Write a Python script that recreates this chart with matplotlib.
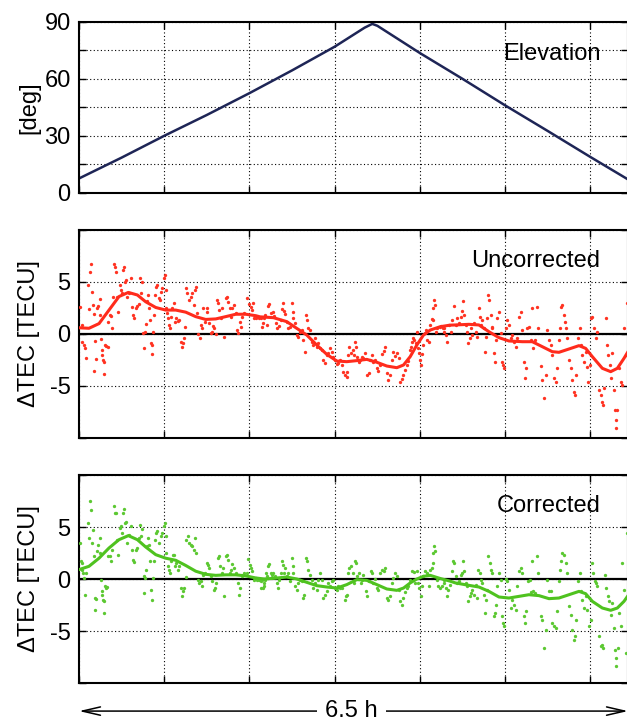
import matplotlib.pyplot as plt
import matplotlib.ticker as mticker
import numpy as np

plt.rcParams['font.family'] = ['Liberation Sans', 'DejaVu Sans']

# satellite elevation over the pass (hours, degrees)
elev_h = [0.0, 0.5, 1.0, 1.5, 2.0, 2.5, 3.0, 3.35, 3.44, 3.5, 4.0, 4.5, 5.0, 5.5, 6.0, 6.44]
elev_deg = [7.5, 18.5, 30.0, 41.0, 52.5, 64.5, 77.0, 87.0, 89.0, 88.0, 73.6, 60.0, 46.0, 32.5, 18.8, 7.0]

# smoothed uncorrected dTEC
unc_fit_h = [0.0, 0.117, 0.235, 0.352, 0.469, 0.579, 0.685, 0.782, 0.9, 1.017, 1.135, 1.252,
             1.369, 1.486, 1.604, 1.721, 1.839, 1.956, 2.074, 2.124, 2.281, 2.437, 2.555,
             2.672, 2.789, 2.907, 3.024, 3.141, 3.259, 3.376, 3.494, 3.611, 3.728, 3.807,
             3.885, 3.963, 4.041, 4.12, 4.237, 4.35, 4.417, 4.574, 4.691, 4.809, 4.926,
             5.043, 5.2, 5.317, 5.435, 5.552, 5.63, 5.748, 5.865, 5.943, 6.022, 6.139,
             6.237, 6.315, 6.393, 6.44]
unc_fit_v = [0.6, 0.55, 1.0, 2.3, 3.6, 4.0, 3.75, 3.1, 2.55, 2.3, 2.3, 2.1,
             1.67, 1.4, 1.45, 1.67, 1.9, 1.9, 1.76, 1.65, 1.57, 1.19, 0.54,
             -0.1, -1.06, -1.96, -2.6, -2.66, -2.56, -2.44, -2.72, -3.08, -3.24, -2.98,
             -2.18, -1.06, -0.1, 0.38, 0.7, 0.85, 0.87, 0.93, 0.87, 0.22, -0.35,
             -0.67, -0.74, -0.74, -1.22, -1.7, -1.76, -1.44, -1.12, -1.38, -2.18, -3.3,
             -3.62, -3.3, -2.34, -1.7]

# uncorrected dTEC samples
unc_h = [0.012, 0.031, 0.039, 0.059, 0.070, 0.078, 0.110, 0.117, 0.129, 0.137, 0.149, 0.164,
         0.176, 0.188, 0.196, 0.180, 0.215, 0.227, 0.243, 0.250, 0.258, 0.266, 0.274, 0.282,
         0.290, 0.297, 0.305, 0.321, 0.336, 0.344, 0.360, 0.372, 0.383, 0.399, 0.411, 0.423,
         0.438, 0.450, 0.462, 0.477, 0.489, 0.501, 0.516, 0.532, 0.540, 0.556, 0.567, 0.587,
         0.606, 0.618, 0.634, 0.646, 0.665, 0.685, 0.704, 0.720, 0.724, 0.736, 0.751, 0.763,
         0.775, 0.782, 0.798, 0.806, 0.822, 0.829, 0.845, 0.853, 0.861, 0.869, 0.880, 0.892,
         0.908, 0.919, 0.939, 0.951, 0.962, 0.978, 0.998, 1.009, 1.025, 1.025, 1.037, 1.049,
         1.056, 1.064, 1.076, 1.095, 1.115, 1.127, 1.142, 1.158, 1.174, 1.193, 1.205, 1.221,
         1.236, 1.244, 1.260, 1.272, 1.291, 1.311, 1.330, 1.350, 1.362, 1.369, 1.389, 1.401,
         1.416, 1.428, 1.448, 1.455, 1.479, 1.498, 1.506, 1.526, 1.545, 1.565, 1.573, 1.588,
         1.604, 1.620, 1.635, 1.643, 1.663, 1.682, 1.702, 1.721, 1.741, 1.753, 1.768, 1.784,
         1.800, 1.819, 1.839, 1.858, 1.870, 1.886, 1.901, 1.917, 1.937, 1.976, 1.995, 2.015,
         2.027, 2.042, 2.054, 2.074, 2.093, 2.113, 2.132, 2.152, 2.171,
         2.155, 2.183, 2.202, 2.222, 2.234, 2.249, 2.273, 2.288, 2.312, 2.327, 2.343, 2.367,
         2.382, 2.390, 2.406, 2.417, 2.437, 2.457, 2.476, 2.496, 2.507, 2.515, 2.535, 2.554,
         2.574, 2.593, 2.613, 2.633, 2.652, 2.664, 2.672, 2.691, 2.711, 2.730, 2.750, 2.770,
         2.789, 2.809, 2.828, 2.848, 2.867, 2.887, 2.907, 2.926, 2.946, 2.965, 2.985, 3.004,
         3.024, 3.043, 3.063, 3.083, 3.102, 3.122, 3.141, 3.149, 3.161, 3.173, 3.188, 3.212,
         3.227, 3.243, 3.251, 3.266, 3.282, 3.298, 3.317, 3.337, 3.356, 3.376, 3.396, 3.415,
         3.435, 3.454, 3.474, 3.493, 3.513, 3.532, 3.552, 3.572, 3.591, 3.611, 3.630, 3.650,
         3.669, 3.689, 3.709, 3.728, 3.748, 3.767, 3.787, 3.806, 3.826, 3.845, 3.865, 3.877,
         3.892, 3.904, 3.916, 3.932, 3.955, 3.963, 3.982, 3.994, 4.002, 4.010, 4.025, 4.041,
         4.061, 4.072, 4.088, 4.100, 4.119, 4.139, 4.151, 4.158, 4.166, 4.178, 4.190, 4.205,
         4.229, 4.245, 4.268, 4.284,
         4.281, 4.300, 4.320, 4.339, 4.359, 4.378, 4.398, 4.417, 4.437, 4.457, 4.476, 4.496,
         4.504, 4.515, 4.535, 4.554, 4.566, 4.582, 4.597, 4.613, 4.633, 4.652, 4.672, 4.691,
         4.699, 4.711, 4.730, 4.750, 4.762, 4.777, 4.789, 4.801, 4.809, 4.828, 4.840, 4.848,
         4.867, 4.879, 4.887, 4.907, 4.926, 4.946, 4.957, 4.973, 4.989, 5.004, 5.024, 5.043,
         5.063, 5.083, 5.102, 5.122, 5.141, 5.161, 5.180, 5.200, 5.220, 5.231, 5.247, 5.259,
         5.278, 5.298, 5.310, 5.325, 5.349, 5.376, 5.388, 5.415, 5.435, 5.454, 5.474, 5.493,
         5.513, 5.533, 5.552, 5.572, 5.591, 5.611, 5.630, 5.638, 5.650, 5.669, 5.689, 5.701,
         5.716, 5.728, 5.748, 5.767, 5.787, 5.806, 5.818, 5.834, 5.857, 5.873, 5.885, 5.904,
         5.924, 5.943, 5.963, 5.975, 5.990, 6.006, 6.022, 6.041, 6.061, 6.080, 6.100, 6.119,
         6.131, 6.147, 6.159, 6.178, 6.194, 6.209, 6.225, 6.241, 6.256, 6.276, 6.288, 6.295,
         6.303, 6.315, 6.335, 6.354, 6.374, 6.393, 6.413, 6.425]
unc_v = [2.56, 0.87, -0.74, -1.06, -1.31, -2.28, 4.71, 2.37, 5.99, 6.70, 4.07, 2.79,
         1.89, -0.67, -2.44, -3.53, 2.47, 2.72, 3.37, 1.83, -0.48, -1.54, -2.02, -2.50,
         -3.81, -2.66, -1.06, -1.12, -1.22, 1.19, 1.83, 1.76, 0.61, 3.59, 6.70, 6.47,
         5.99, 3.59, 2.08, 4.71, 4.23, 3.91, 6.15, 6.47, 5.03, 5.19, 3.53, 3.91,
         5.35, 2.63, 1.83, 1.57, 2.47, 2.72, 2.85, 5.35, 3.91, 5.03, 0.06, -1.31,
         0.16, 0.93, 3.17, 3.75, 2.47, 1.35, -0.90, -1.96, -1.06, 0.16, 1.83, 3.75,
         4.55, 4.71, 3.43, 3.27, 4.07, 4.46, 5.35, 5.67, 4.23, 2.47, 1.99, 1.51,
         0.87, 0.54, 1.67, 2.47, 2.95, 1.19, 1.57, 1.25, 1.35, -0.74, -1.22, -0.90,
         -0.42, 0.71, 4.39, 3.91, 3.27, 3.59, 3.91, 2.79, 4.23, 4.55, 1.99, -0.03,
         -0.35, 0.87, 0.54, 2.47, 1.12, 2.15, 2.53, 1.03, 0.06, 0.22, 0.80, 0.54,
         -0.03, 3.27, 2.95, 2.31, 1.51, 2.47, -0.26, 3.43, 3.59, 3.04, 2.47, 1.67,
         2.47, 2.79, 1.99, 0.38, 0.06, 1.19, 0.71, 1.67, 1.99, 3.43, 2.85, 2.63,
         2.31, 2.95, 1.51, 1.57, 1.67, 1.57, 1.51, 0.71, 1.57,
         1.03, 1.83, 0.87, 2.72, 2.85, 1.99, 2.15, 1.76, 1.03, 0.54, 0.80, 1.35,
         2.40, 2.95, 2.21, 1.89, 1.19, 0.54, 0.71, 2.95, 2.15, 1.51, 1.03, -0.10,
         -0.26, 0.22, 0.38, -0.58, -1.70, 1.83, 1.35, 0.54, 0.38, -0.74, -1.06, -0.42,
         -1.22, -0.90, -1.38, -1.54, -2.50, -2.82, -2.02, -1.86, -1.31, -1.70, -2.18, -2.50,
         -2.92, -2.82, -2.50, -2.98, -3.62, -3.94, -4.10, -3.69, -2.02, -1.22, -1.86, -1.54,
         -2.02, -0.74, -1.22, -2.18, -2.66, -2.50, -2.18, -2.34, -1.86, -3.94, -3.78, -2.50,
         -2.02, -2.66, -2.50, -3.30, -3.56, -2.98, -1.96, -1.63, -1.22, -3.78, -4.42, -3.94,
         -2.50, -1.70, -2.08, -1.86, -2.34, -4.58, -4.33, -3.94, -3.46, -2.98, -2.60, -1.54,
         -1.22, -0.74, -0.42, -0.58, -0.90, 0.22, -1.38, -1.86, -2.50, -2.98, -1.96, -1.06,
         0.06, 0.38, -0.58, -0.74, 0.87, 1.44, 1.35, 2.47, 3.27, 2.79, 0.22, 0.54,
         0.71, 0.80, 0.54, 0.22,
         0.54, -0.10, -0.74, 0.87, 0.22, 1.35, 2.72, 0.87, 1.51, 1.03, 1.67, 2.21,
         3.17, 1.83, 0.87, 0.22, -0.90, -0.42, 0.54, -0.10, 1.03, 0.22, -0.26, 2.47,
         1.67, 0.87, 1.35, 0.54, -1.70, -0.26, 1.51, 3.75, 3.27, 1.83, 0.54, 0.71,
         -1.86, -2.66, -0.58, 1.51, 2.15, 0.06, -2.66, -2.98, -3.24, 0.54, 1.35, 0.87,
         -0.42, -0.10, -0.74, -1.22, -0.42, 1.67, 2.15, 0.38, -2.66, -4.26, -3.30, 0.54,
         0.71, -0.58, 2.47, -1.38, -0.58, 2.63, 0.54, -3.04, -4.42, -6.19, -3.94, 0.38,
         -0.58, -1.06, -2.02, -4.26, -4.58, -3.30, -0.58, 0.54, 2.63, 2.79, 1.83, 1.19,
         0.54, -0.42, -2.50, -3.30, -4.42, -5.54, -5.87, -3.94, -0.42, 0.54, -1.06, -2.02,
         -2.66, -1.70, -3.14, -4.58, -2.98, 1.51, 1.67, 0.54, -0.42, 0.22, -5.38, -5.87,
         -6.51, -6.83, -5.22, 1.51, -1.06, -2.02, -2.98, -4.26, -1.86, -5.38, -7.31, -8.27,
         -9.07, -7.31, -3.30, -4.58, -4.90, 0.54, -2.02, 2.95]

# smoothed corrected dTEC
cor_fit_h = [0.0, 0.117, 0.235, 0.352, 0.469, 0.579, 0.685, 0.782, 0.9, 1.017, 1.135, 1.252,
             1.369, 1.486, 1.604, 1.721, 1.839, 1.956, 2.074, 2.171, 2.281, 2.437, 2.555,
             2.672, 2.789, 2.907, 3.024, 3.141, 3.259, 3.376, 3.494, 3.611, 3.728, 3.807,
             3.885, 3.963, 4.041, 4.12, 4.237, 4.35, 4.417, 4.574, 4.691, 4.809, 4.926,
             5.043, 5.161, 5.278, 5.396, 5.513, 5.63, 5.748, 5.865, 5.943, 6.022, 6.139,
             6.237, 6.315, 6.393, 6.44]
cor_fit_v = [0.9, 1.22, 2.0, 2.98, 3.78, 4.17, 3.78, 3.08, 2.34, 2.0, 1.8, 1.3,
             0.75, 0.45, 0.35, 0.4, 0.4, 0.3, 0.1, 0.0, 0.06, 0.19, 0.0,
             -0.32, -0.64, -0.77, -0.87, -0.54, -0.06, -0.13, -0.54, -0.96, -1.09, -0.87,
             -0.38, 0.0, 0.26, 0.35, 0.05, -0.2, -0.38, -0.61, -0.77, -1.19, -1.73,
             -1.83, -1.67, -1.51, -1.6, -1.89, -1.83, -1.51, -1.19, -1.41, -2.15, -2.79,
             -3.01, -2.79, -2.15, -1.6]

# corrected dTEC samples
cor_h = [0.012, 0.020, 0.031, 0.039, 0.047, 0.059, 0.070, 0.086, 0.110, 0.117, 0.129, 0.141,
         0.156, 0.164, 0.176, 0.188, 0.196, 0.184, 0.215, 0.227, 0.243, 0.250, 0.258, 0.266,
         0.274, 0.282, 0.290, 0.297, 0.305, 0.321, 0.333, 0.344, 0.360, 0.372, 0.391, 0.411,
         0.423, 0.438, 0.450, 0.462, 0.477, 0.489, 0.501, 0.516, 0.532, 0.540, 0.556, 0.567,
         0.587, 0.606, 0.618, 0.634, 0.646, 0.665, 0.685, 0.704, 0.720, 0.728, 0.743, 0.759,
         0.767, 0.775, 0.782, 0.798, 0.806, 0.822, 0.829, 0.845, 0.853, 0.869, 0.880, 0.892,
         0.908, 0.919, 0.939, 0.959, 0.978, 0.998, 1.009, 1.025, 1.025, 1.049, 1.056, 1.064,
         1.080, 1.103, 1.115, 1.127, 1.142, 1.158, 1.174, 1.193, 1.205, 1.221, 1.236, 1.252,
         1.260, 1.275, 1.291, 1.311, 1.330, 1.346, 1.362, 1.369, 1.393, 1.408, 1.428, 1.448,
         1.455, 1.479, 1.498, 1.510, 1.526, 1.545, 1.565, 1.581, 1.596, 1.612, 1.635, 1.643,
         1.659, 1.675, 1.690, 1.706, 1.721, 1.741, 1.753, 1.768, 1.784, 1.800, 1.819, 1.839,
         1.862, 1.878, 1.894, 1.909, 1.937, 1.976, 1.987, 2.003, 2.019, 2.034, 2.054, 2.074,
         2.093, 2.113, 2.132, 2.152, 2.171,
         2.136, 2.155, 2.171, 2.183, 2.194, 2.210, 2.222, 2.234, 2.249, 2.265, 2.281, 2.300,
         2.320, 2.339, 2.351, 2.367, 2.382, 2.398, 2.406, 2.421, 2.437, 2.457, 2.476, 2.496,
         2.507, 2.515, 2.535, 2.554, 2.574, 2.593, 2.613, 2.633, 2.644, 2.664, 2.680, 2.691,
         2.711, 2.730, 2.750, 2.770, 2.789, 2.809, 2.828, 2.848, 2.867, 2.887, 2.907, 2.926,
         2.946, 2.965, 2.985, 3.004, 3.024, 3.043, 3.063, 3.083, 3.122, 3.133, 3.149, 3.161,
         3.173, 3.188, 3.212, 3.227, 3.243, 3.251, 3.266, 3.290, 3.306, 3.321, 3.337, 3.368,
         3.384, 3.407, 3.423, 3.439, 3.454, 3.474, 3.493, 3.513, 3.532, 3.552, 3.572, 3.591,
         3.611, 3.630, 3.650, 3.669, 3.689, 3.709, 3.728, 3.748, 3.767, 3.787, 3.806, 3.826,
         3.845, 3.865, 3.885, 3.904, 3.924, 3.943, 3.963, 3.982, 3.994, 4.010, 4.025, 4.041,
         4.061, 4.080, 4.100, 4.119, 4.139, 4.151, 4.158, 4.166, 4.178, 4.198, 4.217, 4.237,
         4.257, 4.276,
         4.281, 4.300, 4.320, 4.331, 4.347, 4.371, 4.386, 4.402, 4.417, 4.437, 4.457, 4.476,
         4.488, 4.504, 4.519, 4.535, 4.554, 4.566, 4.582, 4.597, 4.613, 4.633, 4.652, 4.672,
         4.684, 4.699, 4.711, 4.730, 4.750, 4.762, 4.777, 4.789, 4.801, 4.817, 4.828, 4.848,
         4.867, 4.879, 4.887, 4.907, 4.926, 4.946, 4.957, 4.973, 4.989, 5.004, 5.024, 5.043,
         5.063, 5.083, 5.102, 5.122, 5.141, 5.161, 5.180, 5.200, 5.220, 5.231, 5.247, 5.270,
         5.286, 5.298, 5.310, 5.325, 5.349, 5.376, 5.388, 5.415, 5.435, 5.454, 5.474, 5.493,
         5.513, 5.533, 5.552, 5.572, 5.591, 5.611, 5.630, 5.638, 5.650, 5.669, 5.689, 5.709,
         5.728, 5.748, 5.767, 5.787, 5.806, 5.818, 5.834, 5.857, 5.873, 5.885, 5.904, 5.924,
         5.943, 5.963, 5.982, 6.002, 6.014, 6.029, 6.053, 6.069, 6.080, 6.100, 6.119, 6.131,
         6.147, 6.170, 6.186, 6.202, 6.217, 6.237, 6.256, 6.276, 6.288, 6.295, 6.303, 6.319,
         6.335, 6.354, 6.374, 6.393, 6.413, 6.428]
cor_v = [3.46, 1.70, 0.90, 1.54, 0.58, 0.10, -1.51, 0.58, 5.38, 3.94, 7.47, 6.67,
         3.46, 4.74, 2.18, -1.83, -1.92, -2.95, 2.66, 3.30, 2.50, 3.94, -0.06, -1.19,
         -1.51, -1.99, -3.27, -2.15, -0.71, -0.87, -0.77, 2.18, 2.18, 1.70, 2.76, 6.99,
         6.35, 6.35, 3.78, 2.34, 4.90, 5.06, 4.42, 6.35, 6.73, 5.38, 5.45, 3.46,
         4.26, 5.06, 2.82, 1.86, 1.60, 2.82, 2.98, 3.94, 5.22, 4.10, 4.81, 0.26,
         -1.35, 0.10, 0.90, 3.14, 3.94, 3.30, 1.70, -1.03, -1.99, 0.10, 1.70, 3.78,
         4.42, 4.58, 3.46, 4.10, 4.42, 5.06, 5.38, 4.10, 2.50, 1.22, 0.90, 0.58,
         1.70, 2.34, 2.34, 1.22, 1.54, 0.90, 1.22, -0.87, -1.67, -1.19, -0.87, 0.19,
         3.78, 4.10, 3.46, 3.30, 3.14, 2.82, 3.94, 2.50, -0.06, -0.38, -0.22, -0.71,
         0.42, 0.58, 1.54, 1.38, 1.06, 0.26, -0.22, -1.03, -0.87, -0.38, 2.02, 2.18,
         1.22, 0.58, 1.06, -1.67, 2.18, 2.34, 1.86, 0.58, 0.90, 1.47, 1.06, 0.58,
         -0.38, -1.51, -0.87, 0.26, 0.58, 0.58, 1.92, 1.38, 1.06, 0.74, -0.06, 0.10,
         -0.06, -0.13, -0.87, -0.06, -0.38,
         -0.22, -0.87, -0.71, -0.06, 0.58, 0.26, 1.28, 1.47, 0.58, 0.42, 0.58, 0.26,
         -0.38, -0.87, -0.06, 0.58, 1.70, 1.38, 0.58, 1.06, 0.26, 0.58, -0.22, 2.02,
         0.58, 1.22, -0.71, -1.03, -0.38, -0.06, -0.22, -1.83, -1.51, 2.02, 1.70, 0.90,
         0.42, -0.06, -0.87, -0.38, -1.03, -0.06, 0.58, -0.06, -1.83, -1.51, -1.19, -0.38,
         -0.71, -0.22, -0.06, -0.87, -1.03, -0.71, -0.87, -0.87, -1.99, -1.67, -1.51, 0.58,
         1.06, 1.22, 0.58, -0.38, 1.70, 1.54, 0.26, 0.58, -0.38, -0.06, 0.42, -1.19,
         -1.60, -0.22, 0.74, 0.58, -0.38, 0.00, -0.87, -1.03, 0.58, 0.90, 0.74, 1.06,
         -1.83, -1.99, -1.67, -0.38, 0.10, 0.58, 0.26, -1.03, -2.15, -2.47, -1.83, -1.28,
         -0.87, -0.71, -0.06, 0.74, 0.64, -0.38, 0.74, -0.38, -0.87, -1.67, -0.71, 0.26,
         0.74, 0.58, -0.71, 0.90, 1.06, 1.54, 2.50, 3.14, 2.66, -0.06, -0.71, -0.87,
         -0.71, -0.06,
         -0.38, -0.87, -1.67, -1.03, -0.54, 0.74, 1.70, 1.54, 0.26, -0.38, -0.22, 0.42,
         0.58, 1.70, 0.74, -0.38, -0.71, -2.15, -1.67, -1.35, -1.03, -1.51, -0.54, -1.83,
         0.90, 0.58, -0.06, -0.38, -1.51, -3.27, -1.99, -1.03, 2.18, 1.54, 0.90, 0.58,
         -3.59, -3.27, -2.47, -0.71, 0.58, -0.06, -3.59, -4.23, -4.55, 0.00, -0.22, -1.03,
         -2.79, -1.99, -2.47, -2.95, -0.71, 0.74, 1.06, 0.58, -3.59, -4.23, -3.11, -0.22,
         -0.06, -1.28, 1.70, -1.19, -1.35, 2.18, 0.58, -3.59, -3.91, -6.63, -4.87, -0.06,
         -1.19, -1.19, -4.23, -4.55, -4.71, -3.11, -0.22, 0.90, 1.70, 2.50, 2.34, 1.54,
         0.58, -2.63, -3.43, -4.87, -5.83, -5.51, -3.91, -0.22, 0.58, -1.19, -1.99, -2.79,
         -1.67, -2.95, -4.55, -3.91, 1.54, 0.58, -0.22, -0.38, -0.71, -5.51, -6.47, -6.31,
         -6.63, 0.42, -0.87, -1.67, -2.15, -3.43, -2.31, -4.71, -6.79, -7.60, -8.40, -6.63,
         -3.27, -4.55, 1.54, -1.03, -7.12, 4.42]

red_pts = '#ff3322'
red_line = '#ff2b1c'
green_pts = '#5cc832'
green_line = '#4fc21f'
navy = '#1e2556'

t_end = 6.44
W, H = 627, 722
fig = plt.figure(figsize=(W / 100, H / 100), dpi=100)


def panel(top, bottom):
    ax = fig.add_axes([79 / W, 1 - bottom / H, 549 / W, (bottom - top) / H])
    ax.set_xlim(0, t_end)
    ax.xaxis.set_major_locator(mticker.MultipleLocator(1))
    ax.xaxis.set_major_formatter(mticker.NullFormatter())
    ax.grid(True, color='black', linestyle=(0, (1, 2.2)), linewidth=0.8)
    ax.tick_params(direction='in', length=5, width=1.0, top=True, right=True,
                   labelsize=17, pad=6)
    for s in ax.spines.values():
        s.set_linewidth(1.5)
    return ax


ax1 = panel(22, 192.7)
ax1.plot(elev_h, elev_deg, color=navy, lw=1.8)
ax1.set_ylim(0, 90)
ax1.yaxis.set_major_locator(mticker.MultipleLocator(15))
ax1.yaxis.set_major_formatter(mticker.FuncFormatter(
    lambda v, p: '%d' % v if v % 30 == 0 else ''))
ax1.set_ylabel('[deg]', fontsize=17)
ax1.text(6.115, 73, 'Elevation', fontsize=17, ha='right', va='center')


def tec_panel(top, bottom, pts_h, pts_v, fit_h, fit_v, pc, lc, label):
    ax = panel(top, bottom)
    ax.set_ylim(-10, 10)
    ax.set_yticks([-10, -5, 0, 5, 10])
    ax.set_yticklabels(['', '-5', '0', '5', ''])
    ax.axhline(0, color='black', lw=1.6, zorder=1.5)
    ax.plot(pts_h, pts_v, 'o', ms=2.4, color=pc, mec='none', zorder=3)
    ax.plot(fit_h, fit_v, color=lc, lw=2.2, zorder=4, solid_joinstyle='round')
    ax.set_ylabel('ΔTEC [TECU]', fontsize=17)
    ax.text(6.115, 7.0, label, fontsize=17, ha='right', va='center')
    return ax


ax2 = tec_panel(230, 438, unc_h, unc_v, unc_fit_h, unc_fit_v, red_pts, red_line, 'Uncorrected')
ax3 = tec_panel(475, 683, cor_h, cor_v, cor_fit_h, cor_fit_v, green_pts, green_line, 'Corrected')

for ax in (ax1, ax2, ax3):
    ax.yaxis.set_label_coords(-0.071, 0.5)

# span of the whole record
arrow_y = -0.135
ax3.annotate('', xy=(0, arrow_y), xytext=(t_end, arrow_y), xycoords=('data', 'axes fraction'),
             textcoords=('data', 'axes fraction'),
             arrowprops=dict(arrowstyle='<->,head_length=1.3,head_width=0.3', lw=1.1,
                             color='black', shrinkA=0, shrinkB=0), annotation_clip=False)
ax3.text(t_end / 2 - 0.02, arrow_y, '6.5 h', fontsize=17, ha='center', va='center',
         transform=ax3.get_xaxis_transform(), clip_on=False,
         bbox=dict(facecolor='white', edgecolor='none', pad=6))

fig.savefig('out.png', dpi=100)
